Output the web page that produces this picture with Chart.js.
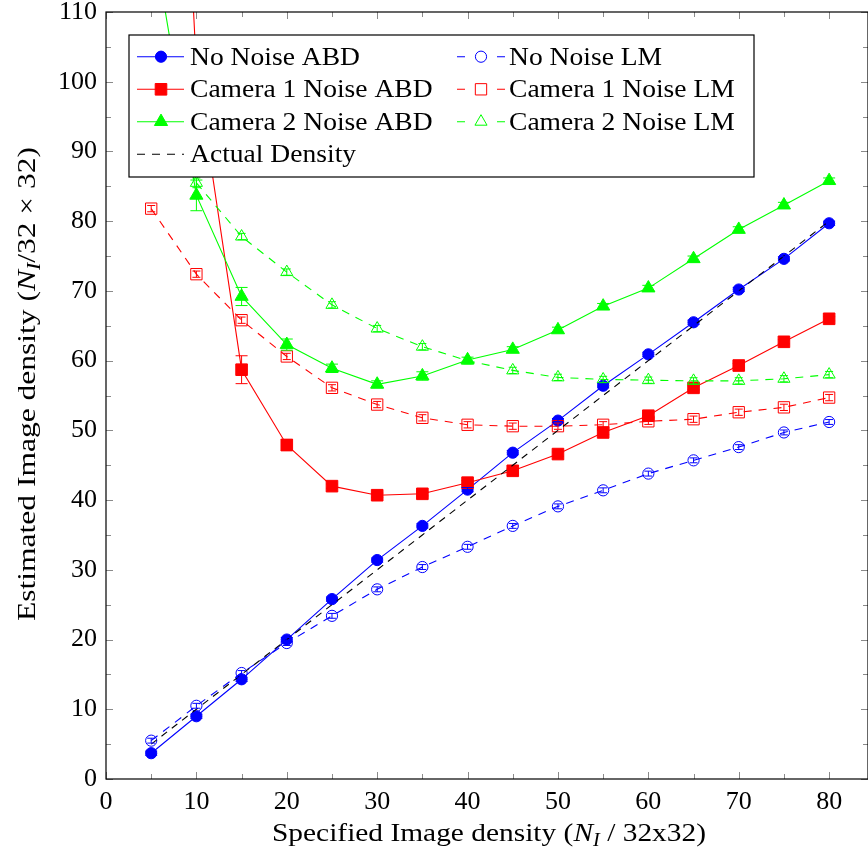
<!DOCTYPE html>
<html>
<head>
<meta charset="utf-8">
<script src="https://cdn.jsdelivr.net/npm/chart.js@4.4.1/dist/chart.umd.min.js"></script>
<style>
  body { margin: 0; background: #fff; }
  canvas { display: block; }
</style>
</head>
<body>
<canvas id="densityChart" width="868" height="852"></canvas>
<script>
// specified density N_I per 32x32 block
const densities = [5, 10, 15, 20, 25, 30, 35, 40, 45, 50, 55, 60, 65, 70, 75, 80];

// estimated density, ABD estimator
const noNoiseABD = [3.7, 9.0, 14.3, 20.0, 25.8, 31.4, 36.3, 41.5, 46.8, 51.4, 56.4, 60.9, 65.5, 70.2, 74.6, 79.7];
const cam1ABD    = [230, 102, 58.7, 47.9, 42.0, 40.7, 40.9, 42.5, 44.2, 46.6, 49.7, 52.1, 56.1, 59.3, 62.7, 66.0];
const cam2ABD    = [122, 83.7, 69.2, 62.3, 58.9, 56.6, 57.8, 60.1, 61.6, 64.4, 67.8, 70.4, 74.6, 78.8, 82.3, 85.8];

// estimated density, LM estimator
const noNoiseLM = [5.5, 10.5, 15.2, 19.5, 23.4, 27.2, 30.4, 33.3, 36.3, 39.1, 41.4, 43.8, 45.7, 47.6, 49.7, 51.2];
const cam1LM    = [81.8, 72.4, 65.8, 60.6, 56.1, 53.7, 51.8, 50.8, 50.6, 50.6, 50.8, 51.3, 51.6, 52.6, 53.3, 54.7];
const cam2LM    = [null, 85.5, 77.8, 72.7, 68.0, 64.6, 62.0, 60.0, 58.6, 57.6, 57.3, 57.2, 57.1, 57.1, 57.4, 58.0];

// half-widths of the error bars
const noNoiseABDErr = [0.3, 0.3, 0.3, 0.3, 0.3, 0.3, 0.3, 0.3, 0.3, 0.3, 0.3, 0.3, 0.3, 0.3, 0.3, 0.3];
const cam1ABDErr    = [0, 0.5, 2.0, 0.8, 0.3, 0.3, 0.3, 0.3, 0.3, 0.3, 0.3, 0.3, 0.3, 0.3, 0.3, 0.3];
const cam2ABDErr    = [0, 2.2, 1.3, 0.8, 0.6, 0.5, 0.6, 0.4, 0.4, 0.4, 0.4, 0.4, 0.4, 0.4, 0.4, 0.4];
const noNoiseLMErr  = [0.35, 0.35, 0.35, 0.35, 0.35, 0.35, 0.35, 0.35, 0.35, 0.35, 0.35, 0.35, 0.35, 0.35, 0.35, 0.35];
const cam1LMErr     = [0.45, 0.45, 0.45, 0.45, 0.45, 0.45, 0.45, 0.45, 0.45, 0.45, 0.45, 0.45, 0.45, 0.45, 0.45, 0.45];
const cam2LMErr     = [0, 0.7, 0.45, 0.45, 0.45, 0.45, 0.45, 0.45, 0.45, 0.45, 0.45, 0.45, 0.45, 0.45, 0.45, 0.45];

const xTicks = [0, 10, 20, 30, 40, 50, 60, 70, 80];
const yTicks = [0, 10, 20, 30, 40, 50, 60, 70, 80, 90, 100, 110];

const BLUE = '#0000ff', RED = '#ff0000', GREEN = '#00ff00';
const serif = "'Liberation Serif', 'Times New Roman', serif";
const FONT_SIZE = 26;
const SUB_SIZE = 18;

function series(label, values, errs, color, style, filled, dashed, radius) {
  return {
    label,
    data: densities.map((x, i) => ({ x, y: values[i] })),
    errs,
    borderColor: color,
    backgroundColor: color,
    pointBackgroundColor: filled ? color : 'rgba(0,0,0,0)',
    pointBorderColor: color,
    pointStyle: style,
    pointRadius: radius,
    pointHoverRadius: radius,
    pointBorderWidth: 1,
    borderWidth: 1.1,
    borderDash: dashed ? [8, 7] : [],
    filled,
    dashed,
    tension: 0,
    fill: false,
  };
}

const datasets = [
  series('No Noise ABD', noNoiseABD, noNoiseABDErr, BLUE, 'circle', true, false, 5.6),
  series('No Noise LM', noNoiseLM, noNoiseLMErr, BLUE, 'circle', false, true, 5.6),
  series('Camera 1 Noise ABD', cam1ABD, cam1ABDErr, RED, 'rect', true, false, 8.2),
  series('Camera 1 Noise LM', cam1LM, cam1LMErr, RED, 'rect', false, true, 8.0),
  series('Camera 2 Noise ABD', cam2ABD, cam2ABDErr, GREEN, 'triangle', true, false, 7.6),
  series('Camera 2 Noise LM', cam2LM, cam2LMErr, GREEN, 'triangle', false, true, 7.0),
  {
    label: 'Actual Density',
    data: densities.map(x => ({ x, y: x })),
    borderColor: '#000',
    borderWidth: 1.1,
    borderDash: [7, 6],
    pointRadius: 0,
    dashed: true,
    fill: false,
  },
];
// later plots sit on top
datasets.forEach((d, i) => { d.order = datasets.length - i; });

// error bars, clipped to the plot area
const errorBars = {
  id: 'errorBars',
  afterDatasetsDraw(chart) {
    const { ctx, chartArea: a, scales: { x, y } } = chart;
    ctx.save();
    ctx.beginPath();
    ctx.rect(a.left, a.top, a.right - a.left, a.bottom - a.top);
    ctx.clip();
    ctx.setLineDash([]);
    ctx.lineWidth = 1;
    chart.data.datasets.forEach(ds => {
      if (!ds.errs) return;
      ctx.strokeStyle = ds.borderColor;
      const cap = ds.filled ? 6 : 4;
      ds.data.forEach((p, i) => {
        const e = ds.errs[i];
        if (p.y == null || !e) return;
        const px = x.getPixelForValue(p.x);
        const y0 = y.getPixelForValue(p.y - e);
        const y1 = y.getPixelForValue(p.y + e);
        ctx.beginPath();
        ctx.moveTo(px, y0); ctx.lineTo(px, y1);
        ctx.moveTo(px - cap, y0); ctx.lineTo(px + cap, y0);
        ctx.moveTo(px - cap, y1); ctx.lineTo(px + cap, y1);
        ctx.stroke();
      });
    });
    ctx.restore();
  }
};

// text pieces in a row: [text, italic, subscript]
function setFont(ctx, it, sub) {
  ctx.font = (it ? 'italic ' : '') + (sub ? SUB_SIZE : FONT_SIZE) + 'px ' + serif;
}
function runWidth(ctx, parts) {
  let w = 0;
  parts.forEach(([t, it, sub]) => { setFont(ctx, it, sub); w += ctx.measureText(t).width; });
  return w;
}
// draws the run centred on (cx, cy), stretched to the given width
function drawRun(ctx, parts, cx, cy, width) {
  const sx = width / runWidth(ctx, parts);
  ctx.save();
  ctx.translate(cx - width / 2, cy);
  ctx.scale(sx, 1);
  let x = 0;
  parts.forEach(([t, it, sub]) => {
    setFont(ctx, it, sub);
    ctx.fillText(t, x, sub ? 5 : 0);
    x += ctx.measureText(t).width;
  });
  ctx.restore();
}

// frame, inward ticks on all four sides, axis titles
const frame = {
  id: 'frame',
  afterDraw(chart) {
    const { ctx, chartArea: a, scales: { x, y } } = chart;
    ctx.save();
    ctx.setLineDash([]);
    ctx.strokeStyle = '#8a8a8a';
    ctx.lineWidth = 1;
    const tick = (len, vx, vy) => {
      ctx.beginPath();
      if (vx != null) {
        const px = Math.round(x.getPixelForValue(vx)) + 0.5;
        ctx.moveTo(px, a.bottom); ctx.lineTo(px, a.bottom - len);
        ctx.moveTo(px, a.top); ctx.lineTo(px, a.top + len);
      } else {
        const py = Math.round(y.getPixelForValue(vy)) + 0.5;
        ctx.moveTo(a.left, py); ctx.lineTo(a.left + len, py);
        ctx.moveTo(a.right, py); ctx.lineTo(a.right - len, py);
      }
      ctx.stroke();
    };
    xTicks.forEach(v => { tick(7, v, null); tick(5, v + 5, null); });
    yTicks.forEach(v => { tick(7, null, v); if (v < 110) tick(5, null, v + 5); });

    ctx.strokeStyle = '#000';
    ctx.lineWidth = 1.2;
    ctx.strokeRect(a.left, a.top, a.right - a.left, a.bottom - a.top);

    ctx.fillStyle = '#000';
    ctx.textBaseline = 'alphabetic';
    const xTitle = [['Specified Image density (', false], ['N', true], ['I', true, true], [' / 32x32)', false]];
    drawRun(ctx, xTitle, 489, 841, 434);

    const yTitle = [['Estimated Image density (', false], ['N', true], ['I', true, true], ['/32 × 32)', false]];
    ctx.translate(35, 384);
    ctx.rotate(-Math.PI / 2);
    drawRun(ctx, yTitle, 0, 0, 474);
    ctx.restore();
  }
};

// legend box inside the plot, two columns
const legendBox = { x: 129, y: 35, w: 625, h: 142 };
const legendRows = [56.7, 89.3, 121.7, 154.3];
const legendCols = [
  { from: 137, to: 184, mark: 161, text: 190 },
  { from: 457, to: 505, mark: 481, text: 509 },
];
const legendStretch = 1.06;
const legendOrder = [
  ['No Noise ABD', 0, 0], ['No Noise LM', 1, 0],
  ['Camera 1 Noise ABD', 0, 1], ['Camera 1 Noise LM', 1, 1],
  ['Camera 2 Noise ABD', 0, 2], ['Camera 2 Noise LM', 1, 2],
  ['Actual Density', 0, 3],
];

const insideLegend = {
  id: 'insideLegend',
  afterDraw(chart) {
    const { ctx } = chart;
    ctx.save();
    ctx.fillStyle = '#fff';
    ctx.fillRect(legendBox.x, legendBox.y, legendBox.w, legendBox.h);
    ctx.strokeStyle = '#000';
    ctx.lineWidth = 1.2;
    ctx.setLineDash([]);
    ctx.strokeRect(legendBox.x, legendBox.y, legendBox.w, legendBox.h);

    legendOrder.forEach(([label, c, r]) => {
      const ds = chart.data.datasets.find(d => d.label === label);
      const col = legendCols[c];
      const yy = legendRows[r];
      ctx.strokeStyle = ds.borderColor;
      ctx.lineWidth = 1.1;
      ctx.beginPath();
      if (!ds.dashed) {
        ctx.setLineDash([]);
        ctx.moveTo(col.from, yy); ctx.lineTo(col.to, yy);
      } else if (!ds.pointStyle) {
        ctx.setLineDash([8, 7]);
        ctx.moveTo(col.from, yy); ctx.lineTo(col.to, yy);
      } else {
        ctx.setLineDash([]);
        ctx.moveTo(col.from, yy); ctx.lineTo(col.from + 8, yy);
        ctx.moveTo(col.to - 8, yy); ctx.lineTo(col.to, yy);
      }
      ctx.stroke();
      ctx.setLineDash([]);

      if (ds.pointStyle) {
        ctx.fillStyle = ds.pointBackgroundColor;
        ctx.strokeStyle = ds.pointBorderColor;
        ctx.lineWidth = 1;
        Chart.helpers.drawPoint(ctx, {
          pointStyle: ds.pointStyle, radius: ds.pointRadius, rotation: 0, borderWidth: 1
        }, col.mark, yy);
      }

      ctx.save();
      ctx.fillStyle = '#000';
      ctx.font = FONT_SIZE + 'px ' + serif;
      ctx.textBaseline = 'middle';
      ctx.translate(col.text, yy + 1);
      ctx.scale(legendStretch, 1);
      ctx.fillText(label, 0, 0);
      ctx.restore();
    });
    ctx.restore();
  }
};

Chart.defaults.font.family = serif;
Chart.defaults.font.size = FONT_SIZE;
Chart.defaults.color = '#000';

new Chart(document.getElementById('densityChart').getContext('2d'), {
  type: 'line',
  data: { datasets },
  options: {
    responsive: false,
    animation: false,
    layout: { autoPadding: false, padding: { left: 0, right: 0, top: 12, bottom: 0 } },
    plugins: {
      legend: { display: false },
      tooltip: { enabled: false },
    },
    scales: {
      x: {
        type: 'linear',
        min: 0,
        max: 84.3,
        afterBuildTicks: s => { s.ticks = xTicks.map(v => ({ value: v })); },
        afterFit: s => { s.height = 73; s.paddingLeft = 0; s.paddingRight = 0; },
        grid: { display: false, drawTicks: false },
        border: { display: false },
        ticks: { padding: 8, maxRotation: 0 },
      },
      y: {
        type: 'linear',
        min: 0,
        max: 110,
        afterBuildTicks: s => { s.ticks = yTicks.map(v => ({ value: v })); },
        afterFit: s => { s.width = 106; s.paddingTop = 0; s.paddingBottom = 0; },
        grid: { display: false, drawTicks: false },
        border: { display: false },
        ticks: { padding: 9 },
      },
    },
  },
  plugins: [errorBars, frame, insideLegend],
});
</script>
</body>
</html>
